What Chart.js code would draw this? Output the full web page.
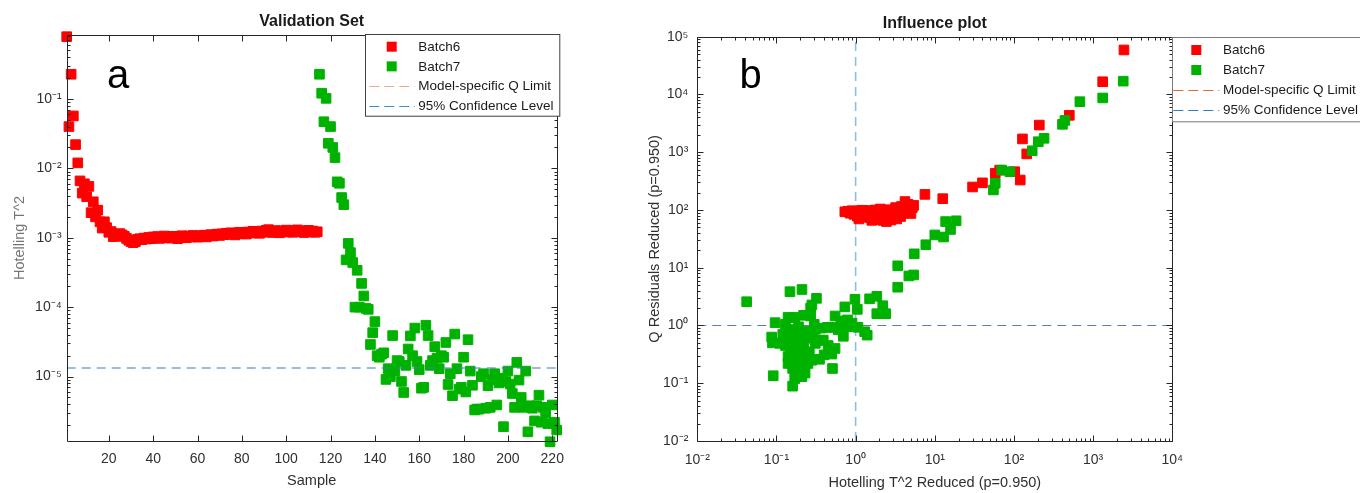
<!DOCTYPE html>
<html>
<head>
<meta charset="utf-8">
<script src="https://cdn.jsdelivr.net/npm/chart.js@4.4.1/dist/chart.umd.min.js"></script>
<style>
  html, body { margin: 0; padding: 0; background: #fff; }
  body { width: 1360px; height: 493px; position: relative; overflow: hidden; }
  .panel { position: absolute; top: 0; height: 493px; }
  #panelA { left: 0; width: 600px; }
  #panelB { left: 600px; width: 760px; }
</style>
</head>
<body>
<div class="panel" id="panelA"><canvas id="chartA"></canvas></div>
<div class="panel" id="panelB"><canvas id="chartB"></canvas></div>
<script>
// ---- data: panel a (Hotelling T^2 per sample) ----
const batch6Start = 1;
const batch6T2 = [
  0.79, 0.040, 0.227, 0.057, 0.022, 0.012, 0.0066, 0.0044, 0.0060, 0.0039,
  0.0055, 0.0023, 0.0033, 0.0020, 0.0025, 0.0017, 0.00138, 0.0017, 0.0014, 0.0012,
  0.00123, 0.00104, 0.00105, 0.0011, 0.00115, 0.0011, 0.00105, 0.00098, 0.00092, 0.00088,
  0.00085, 0.00088, 0.00095, 0.00097, 0.00094, 0.00099, 0.00096, 0.00101, 0.00097, 0.00103,
  0.00099, 0.00104, 0.00098, 0.00102, 0.00106, 0.00100, 0.00103, 0.00099, 0.00105, 0.00101,
  0.00097, 0.00104, 0.00107, 0.00102, 0.00100, 0.00106, 0.00103, 0.00108, 0.00104, 0.00102,
  0.00107, 0.00105, 0.00109, 0.00103, 0.00108, 0.00111, 0.00106, 0.00110, 0.00113, 0.00108,
  0.00114, 0.00111, 0.00116, 0.00112, 0.00118, 0.00114, 0.00110, 0.00117, 0.00120, 0.00115,
  0.00119, 0.00113, 0.00121, 0.00117, 0.00124, 0.00118, 0.00122, 0.00116, 0.00125, 0.00120,
  0.00128, 0.00131, 0.00124, 0.00119, 0.00127, 0.00122, 0.00118, 0.00126, 0.00123, 0.00129,
  0.00121, 0.00125, 0.00120, 0.00127, 0.00130, 0.00122, 0.00126, 0.00119, 0.00124, 0.00128,
  0.00121, 0.00125, 0.00120, 0.00122
];
const batch7Start = 115;
const batch7T2 = [
  0.227, 0.121, 0.047, 0.102, 0.023, 0.040, 0.020, 0.0143, 0.0064, 0.0061,
  0.0038, 0.0030, 0.00048, 0.00083, 0.00061, 0.00044, 0.0001, 0.00034, 0.0001, 0.00022,
  0.000145, 0.000096, 0.000093, 0.000029, 0.000043, 0.000062, 0.000020, 0.000019, 0.000021, 0.000022,
  0.0000091, 0.000013, 0.000010, 0.000039, 0.000012, 0.000017, 0.0000165, 0.0000085, 0.0000059, 0.0000145,
  0.000025, 0.0000385, 0.000020, 0.000050, 0.0000165, 0.0000126, 0.0000068, 0.0000070, 0.000055, 0.000039,
  0.0000145, 0.000017, 0.000027, 0.0000185, 0.000013, 0.000020, 0.000019, 0.000031, 0.0000077, 0.000011,
  0.0000053, 0.000041, 0.000013, 0.0000066, 0.0000070, 0.000019, 0.0000060, 0.000034, 0.000012, 0.0000075,
  0.0000033, 0.0000034, 0.0000034, 0.000010, 0.000011, 0.0000035, 0.0000074, 0.0000036, 0.0000090, 0.000011,
  0.0000039, 0.0000081, 0.0000095, 0.0000019, 0.0000085, 0.000012, 0.0000078, 0.0000057, 0.0000036, 0.000016,
  0.0000089, 0.0000050, 0.0000036, 0.000012, 0.0000016, 0.0000038, 0.0000035, 0.0000023, 0.0000038, 0.0000054,
  0.0000022, 0.0000036, 0.0000030, 0.0000021, 0.00000115, 0.0000039, 0.0000022, 0.0000017
];
const t2Limit = 1.33e-5;
const sampleTicks = [20, 40, 60, 80, 100, 120, 140, 160, 180, 200, 220];
const t2Ticks = [1e-5, 1e-4, 1e-3, 1e-2, 1e-1];

// ---- data: panel b (influence plot) ----
const batch6Hot = [
  0.73, 0.80, 0.85, 0.90, 0.95, 1.00, 1.05, 1.08, 1.12, 1.15,
  1.20, 1.25, 1.30, 1.35, 1.40, 1.45, 1.50, 1.55, 1.60, 1.65,
  1.70, 1.75, 1.80, 1.85, 1.90, 1.95, 2.00, 2.05, 2.10, 2.15,
  2.20, 2.25, 2.30, 2.35, 2.40, 2.45, 2.50, 2.55, 2.60, 2.70,
  2.80, 2.90, 3.00, 3.10, 3.20, 3.30, 3.40, 3.50, 3.60, 3.70,
  3.80, 3.90, 4.00, 4.20, 4.40, 4.60, 4.80, 5.00, 5.20, 5.40,
  1.10, 1.60, 2.00, 2.70, 3.20,
  7.5, 12.6, 30, 40, 58, 66, 102, 120, 145, 128, 209, 500, 1320, 2450
];
const batch6Q = [
  93, 95, 88, 97, 84, 92, 78, 96, 88, 80,
  99, 85, 76, 92, 82, 98, 74, 88, 79, 95,
  71, 86, 100, 77, 90, 68, 83, 104, 74, 92,
  66, 80, 97, 70, 87, 63, 78, 101, 72, 90,
  67, 84, 98, 75, 88, 70, 105, 82, 92, 77,
  115, 88, 100, 140, 96, 125, 90, 87, 110, 120,
  70, 66, 72, 76, 110,
  186, 157, 250, 295, 430, 490, 460, 330, 935, 1700, 2950, 4350, 16600, 59000
];
const batch7Hot = [
  2400, 1320, 680, 440, 410, 240, 203, 170, 89, 70,
  58, 55, 18.6, 13.7, 15.8, 12.9, 10, 7.7, 5.5, 3.4,
  4.7, 5.4, 3.4, 1.85, 1.5, 2.2, 1.85, 2.4, 0.98, 1.05,
  0.73, 1.07, 1.3, 1.4, 0.79, 0.70, 0.63, 0.55, 0.55, 0.51,
  0.44, 0.47, 0.40, 0.35, 0.32, 0.28, 0.27, 0.31, 0.31, 0.28,
  0.21, 0.148, 0.14, 0.17, 0.096, 0.087, 0.089, 0.11, 0.135, 0.16,
  0.20, 0.24, 0.14, 0.155, 0.19, 0.16, 0.18, 0.21, 0.21, 0.16,
  0.091, 0.042, 0.39, 0.13, 0.15, 0.17, 0.18, 0.22, 0.25, 0.26,
  0.14, 0.17, 0.20, 0.23, 0.12, 0.15, 0.19, 0.30, 0.36, 0.45,
  0.50, 0.60, 0.65, 0.80, 0.90, 0.35, 0.25, 0.29, 0.13, 0.27,
  0.22, 0.19, 0.23, 0.17
];
const batch7Q = [
  17000, 8700, 7500, 3550, 3040, 1740, 1520, 1060, 460, 490,
  290, 222, 65, 63, 46, 34, 37, 25, 17.4, 10.8,
  7.2, 7.5, 4.6, 3.2, 2.9, 2.2, 1.6, 1.6, 2.85, 1.9,
  2.1, 0.93, 0.78, 0.68, 1.25, 0.65, 0.93, 1.46, 0.40, 0.18,
  0.93, 0.93, 0.31, 0.26, 2.95, 2.27, 1.46, 0.86, 0.49, 0.25,
  4.2, 3.85, 1.38, 1.38, 1.12, 0.63, 0.50, 0.49, 0.65, 0.56,
  0.60, 0.65, 0.29, 0.31, 0.37, 0.18, 0.17, 0.18, 0.13, 0.089,
  0.135, 2.58, 0.56, 0.45, 0.40, 0.50, 0.75, 0.45, 0.80, 0.35,
  0.22, 0.25, 0.28, 0.30, 0.70, 0.85, 0.95, 1.05, 0.90, 0.45,
  0.32, 0.85, 1.20, 0.95, 1.10, 0.55, 0.22, 0.60, 1.05, 2.00,
  1.50, 0.20, 0.15, 0.12
];
const qLimit = 1;
const hotLimit = 1;
const hotTicks = [1e-2, 1e-1, 1e0, 1e1, 1e2, 1e3, 1e4];
const qTicks = [1e-2, 1e-1, 1e0, 1e1, 1e2, 1e3, 1e4, 1e5];

const legendLabels = ['Batch6', 'Batch7', 'Model-specific Q Limit', '95% Confidence Level'];

const RED = '#ff0000';
const GREEN = '#00b200';
const TXT = '#303030';

Chart.defaults.font.family = 'Arial, "Liberation Sans", Helvetica, sans-serif';
Chart.defaults.color = TXT;

const supMap = {'-': '\u207B', '0': '\u2070', '1': '\u00B9', '2': '\u00B2', '3': '\u00B3',
  '4': '\u2074', '5': '\u2075', '6': '\u2076', '7': '\u2077', '8': '\u2078', '9': '\u2079'};
function powLabel(v) {
  const e = Math.round(Math.log10(v));
  return '10' + String(e).split('').map(c => supMap[c]).join('');
}

function minorValues(scale) {
  const out = [];
  const lo = Math.floor(Math.log10(scale.min)), hi = Math.ceil(Math.log10(scale.max));
  for (let e = lo; e <= hi; e++) {
    for (let k = 2; k <= 9; k++) {
      const v = k * Math.pow(10, e);
      if (v > scale.min && v < scale.max) out.push(v);
    }
  }
  return out;
}

// box, inward ticks, title, panel letter and legend (matlab look)
const panelDeco = {
  id: 'panelDeco',
  afterDatasetsDraw(chart, args, o) {
    const {ctx, chartArea: a} = chart;
    const xs = chart.scales.x, ys = chart.scales.y;
    const L = Math.round(a.left) + 0.5, R = Math.round(a.right) + 0.5;
    const T = Math.round(a.top) + 0.5, B = Math.round(a.bottom) + 0.5;
    ctx.save();
    ctx.strokeStyle = '#262626';
    ctx.lineWidth = 1;
    ctx.beginPath();
    ctx.rect(L, T, R - L, B - T);

    const xTick = (v, len) => {
      const p = Math.round(xs.getPixelForValue(v)) + 0.5;
      if (p < L || p > R) return;
      ctx.moveTo(p, B); ctx.lineTo(p, B - len);
      ctx.moveTo(p, T); ctx.lineTo(p, T + len);
    };
    const yTick = (v, len) => {
      const p = Math.round(ys.getPixelForValue(v)) + 0.5;
      if (p < T || p > B) return;
      ctx.moveTo(L, p); ctx.lineTo(L + len, p);
      ctx.moveTo(R, p); ctx.lineTo(R - len, p);
    };
    xs.ticks.forEach(t => xTick(t.value, 6));
    ys.ticks.forEach(t => yTick(t.value, 6));
    if (xs.type === 'logarithmic') minorValues(xs).forEach(v => xTick(v, 3));
    if (ys.type === 'logarithmic') minorValues(ys).forEach(v => yTick(v, 3));
    ctx.stroke();

    // title
    ctx.fillStyle = '#1a1a1a';
    ctx.font = 'bold 16px Arial, "Liberation Sans", sans-serif';
    ctx.textAlign = 'center';
    ctx.textBaseline = 'middle';
    ctx.fillText(o.title, (a.left + a.right) / 2, a.top - 13);

    // panel letter
    ctx.fillStyle = '#000';
    ctx.font = '40px Arial, "Liberation Sans", sans-serif';
    ctx.textBaseline = 'alphabetic';
    ctx.fillText(o.letter, a.left + o.letterDx, 88);

    // legend
    const g = o.legend;
    const gl = a.right + g.dx, gt = a.top + g.dy;
    ctx.fillStyle = '#fff';
    ctx.fillRect(gl, gt, g.w, g.h);
    ctx.strokeStyle = g.border;
    ctx.lineWidth = 1;
    ctx.strokeRect(Math.round(gl) + 0.5, Math.round(gt) + 0.5, g.w, g.h);
    ctx.font = '13.5px Arial, "Liberation Sans", sans-serif';
    ctx.textAlign = 'left';
    ctx.textBaseline = 'middle';
    g.items.forEach((it, k) => {
      const cy = gt + g.row0 + k * g.step;
      if (it.kind === 'marker') {
        ctx.fillStyle = it.color;
        ctx.fillRect(gl + g.markX - 5, cy - 5, 10, 10);
      } else {
        ctx.strokeStyle = it.color;
        ctx.lineWidth = 1;
        ctx.setLineDash([10, 5]);
        ctx.beginPath();
        ctx.moveTo(gl + g.dash0, Math.round(cy) + 0.5);
        ctx.lineTo(gl + g.dash1, Math.round(cy) + 0.5);
        ctx.stroke();
        ctx.setLineDash([]);
      }
      ctx.fillStyle = '#1a1a1a';
      ctx.fillText(it.label, gl + g.textX, cy + 0.5);
    });
    ctx.restore();
  }
};

function markerSet(label, pts, color, order) {
  return {
    label: label, data: pts, backgroundColor: color, borderColor: color,
    borderWidth: 1, pointStyle: 'rect', pointRadius: 6.8, clip: false, order: order
  };
}
function dashSet(label, pts, color, width) {
  return {
    label: label, data: pts, showLine: true, borderColor: color, borderWidth: width || 1.2,
    borderDash: [9, 6], pointRadius: 0, fill: false, order: 1
  };
}

// ---- panel a ----
const ptsA6 = batch6T2.map((v, i) => ({x: batch6Start + i, y: v}));
const ptsA7 = batch7T2.map((v, i) => ({x: batch7Start + i, y: v}));

new Chart(document.getElementById('chartA'), {
  type: 'scatter',
  data: {
    datasets: [
      dashSet(legendLabels[3], [{x: 1, y: t2Limit}, {x: 222, y: t2Limit}], '#3a7cbd'),
      dashSet(legendLabels[2], [], '#f0a080'),
      markerSet(legendLabels[1], ptsA7, GREEN, 2),
      markerSet(legendLabels[0], ptsA6, RED, 3)
    ]
  },
  options: {
    responsive: true,
    maintainAspectRatio: false,
    animation: false,
    events: [],
    layout: {padding: {top: 35, right: 43.3, left: 0, bottom: 0}},
    plugins: {
      legend: {display: false},
      tooltip: {enabled: false},
      panelDeco: {
        title: 'Validation Set', letter: 'a', letterDx: 51.3,
        legend: {
          dx: -191.7, dy: -0.7, w: 194.3, h: 81.7, border: '#404040',
          row0: 12.4, step: 19.67, markX: 26.7, dash0: 4.3, dash1: 50, textX: 53.3,
          items: [
            {label: legendLabels[0], kind: 'marker', color: RED},
            {label: legendLabels[1], kind: 'marker', color: GREEN},
            {label: legendLabels[2], kind: 'dash', color: '#f0a888'},
            {label: legendLabels[3], kind: 'dash', color: '#3090d8'}
          ]
        }
      }
    },
    scales: {
      x: {
        type: 'linear', min: 1, max: 222,
        afterBuildTicks: s => { s.ticks = sampleTicks.map(v => ({value: v})); },
        afterFit: s => { s.height = 52; },
        grid: {display: false, drawTicks: false},
        border: {display: false},
        ticks: {autoSkip: false, maxRotation: 0, padding: 9.5, color: TXT, font: {size: 14}},
        title: {display: true, text: 'Sample', color: TXT, font: {size: 14.5}, padding: {top: 0, bottom: 3.6}}
      },
      y: {
        type: 'logarithmic', min: 1.18e-6, max: 0.835,
        afterBuildTicks: s => { s.ticks = t2Ticks.map(v => ({value: v})); },
        afterFit: s => { s.width = 66.7; },
        grid: {display: false, drawTicks: false},
        border: {display: false},
        ticks: {autoSkip: false, padding: 5, color: TXT, font: {size: 14}, callback: v => powLabel(v)},
        title: {display: true, text: 'Hotelling T^2', color: '#757575', font: {size: 14.5}, padding: {top: 11.3, bottom: 0}}
      }
    }
  },
  plugins: [panelDeco]
});

// ---- panel b ----
const ptsB6 = batch6Hot.map((v, i) => ({x: v, y: batch6Q[i]}));
const ptsB7 = batch7Hot.map((v, i) => ({x: v, y: batch7Q[i]}));

const hLine = dashSet(legendLabels[2], [{x: 1e-2, y: qLimit}, {x: 1e4, y: qLimit}], '#5a7fa8', 1.2);
const vLine = dashSet(legendLabels[3], [{x: hotLimit, y: 1e-2}, {x: hotLimit, y: 1e5}], '#8ebfe3', 1.6);
hLine.order = 5; vLine.order = 5;

new Chart(document.getElementById('chartB'), {
  type: 'scatter',
  data: {
    datasets: [
      markerSet(legendLabels[1], ptsB7, GREEN, 2),
      markerSet(legendLabels[0], ptsB6, RED, 3),
      hLine,
      vLine
    ]
  },
  options: {
    responsive: true,
    maintainAspectRatio: false,
    animation: false,
    events: [],
    layout: {padding: {top: 36.7, right: 187.7, left: 0, bottom: 0}},
    plugins: {
      legend: {display: false},
      tooltip: {enabled: false},
      panelDeco: {
        title: 'Influence plot', letter: 'b', letterDx: 53.2,
        legend: {
          dx: 0, dy: 0, w: 200, h: 84.3, border: '#7a7a7a',
          row0: 13.3, step: 20, markX: 24, dash0: 1, dash1: 47, textX: 50.7,
          items: [
            {label: legendLabels[0], kind: 'marker', color: RED},
            {label: legendLabels[1], kind: 'marker', color: GREEN},
            {label: legendLabels[2], kind: 'dash', color: '#e0683c'},
            {label: legendLabels[3], kind: 'dash', color: '#2f7fc0'}
          ]
        }
      }
    },
    scales: {
      x: {
        type: 'logarithmic', min: 1e-2, max: 1e4,
        afterBuildTicks: s => { s.ticks = hotTicks.map(v => ({value: v})); },
        afterFit: s => { s.height = 52; },
        grid: {display: false, drawTicks: false},
        border: {display: false},
        ticks: {autoSkip: false, maxRotation: 0, padding: 11, color: TXT, font: {size: 14}, callback: v => powLabel(v)},
        title: {display: true, text: 'Hotelling T^2 Reduced (p=0.950)', color: TXT, font: {size: 14.5}, padding: {top: 0, bottom: 1}}
      },
      y: {
        type: 'logarithmic', min: 1e-2, max: 1e5,
        afterBuildTicks: s => { s.ticks = qTicks.map(v => ({value: v})); },
        afterFit: s => { s.width = 97.3; },
        grid: {display: false, drawTicks: false},
        border: {display: false},
        ticks: {autoSkip: false, padding: 9, color: TXT, font: {size: 14}, callback: v => powLabel(v)},
        title: {display: true, text: 'Q Residuals Reduced (p=0.950)', color: TXT, font: {size: 14.5}, padding: {top: 46.3, bottom: 0}}
      }
    }
  },
  plugins: [panelDeco]
});
</script>
</body>
</html>
